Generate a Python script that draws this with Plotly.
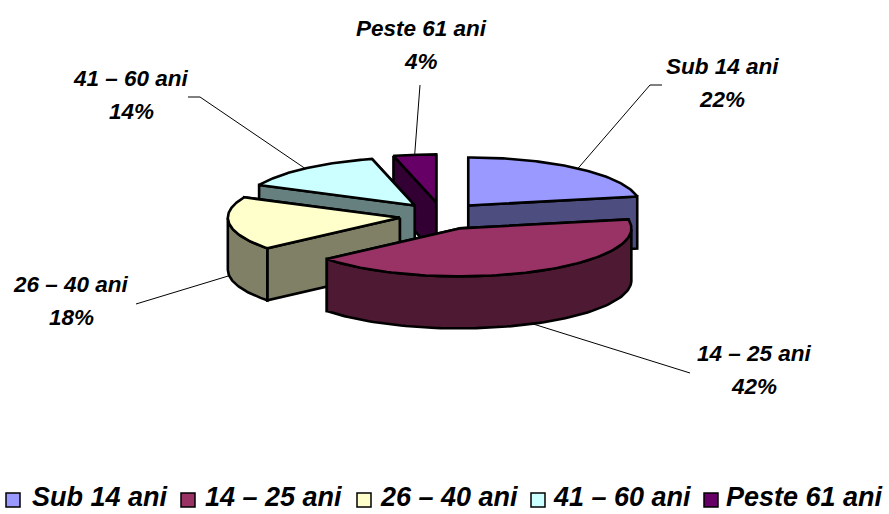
import numpy as np
import plotly.graph_objects as go

categories = ["Sub 14 ani", "14 – 25 ani", "26 – 40 ani", "41 – 60 ani", "Peste 61 ani"]
values = [22, 42, 18, 14, 4]
value_labels = ["22%", "42%", "18%", "14%", "4%"]
top_colors = ["#9999FF", "#993366", "#FFFFCC", "#CCFFFF", "#660066"]
side_colors = ["#4D4D80", "#4D1933", "#808066", "#668080", "#330033"]

# Pixel-space geometry of the tilted pie
CX, CY = 441.5, 216.0
RX, RY = 172.0, 48.0
EX, EY = 42.0, 13.7
DEPTH = 52.0
label_xy = [(722, 66), (754, 353), (71, 284), (131, 78), (421, 28)]
leader_end = [[(650, 85), (662, 85)], [(690, 373)], [(136, 304)], [(200, 97), (188, 97)], [(420, 85)]]
legend_swatch_x = [13, 188, 364, 538, 711]
legend_text_x = [30, 203, 378, 551, 724]
LEGEND_Y = 497
draw_order = [4, 0, 3, 2, 1]

fig = go.Figure()


def poly(xs, ys, fill, width=2.6):
    fig.add_trace(go.Scatter(
        x=list(xs) + [xs[0]], y=list(ys) + [ys[0]], mode="lines", fill="toself",
        fillcolor=fill, line=dict(color="black", width=width), hoverinfo="skip", showlegend=False))


total = sum(values)
edges = np.radians(np.concatenate([[0], np.cumsum(values)]) / total * 360)
rims = {}
for i in range(len(values)):
    a0, a1 = edges[i], edges[i + 1]
    mid = (a0 + a1) / 2
    ax = CX + EX * np.sin(mid)
    ay = CY - EY * np.cos(mid)
    rims[i] = (ax, ay, mid)

for i in draw_order:
    a0, a1 = edges[i], edges[i + 1]
    ax, ay, mid = rims[i]
    walls = sorted([a0, a1], key=lambda t: -np.cos(t))
    for t in walls:
        px, py = ax + RX * np.sin(t), ay - RY * np.cos(t)
        poly([ax, px, px, ax], [ay, py, py + DEPTH, ay + DEPTH], side_colors[i])
    th = np.linspace(a0, a1, 90)
    ex = ax + RX * np.sin(th)
    ey = ay - RY * np.cos(th)
    front = np.cos(th) <= 0.0
    if front.any():
        fx, fy = ex[front], ey[front]
        poly(list(fx) + list(fx[::-1]), list(fy) + list(fy[::-1] + DEPTH), side_colors[i])
    poly([ax] + list(ex), [ay] + list(ey), top_colors[i])

for i, cat in enumerate(categories):
    ax, ay, mid = rims[i]
    sx = ax + RX * np.sin(mid)
    sy = ay - RY * np.cos(mid)
    if np.cos(mid) <= 0.0:
        sy += DEPTH
    pts = [(sx, sy)] + leader_end[i]
    fig.add_trace(go.Scatter(x=[p[0] for p in pts], y=[p[1] for p in pts], mode="lines",
                             line=dict(color="black", width=1), hoverinfo="skip", showlegend=False))

annots = []
lab_font = dict(family="Liberation Sans", size=22.5, color="black", weight="bold", style="italic")
leg_font = dict(family="Liberation Sans", size=27, color="black", weight="bold", style="italic")
for i, cat in enumerate(categories):
    lx, ly = label_xy[i]
    annots.append(dict(x=lx, y=ly, text=cat, showarrow=False, font=lab_font, xanchor="center", yanchor="middle"))
    annots.append(dict(x=lx, y=ly + 33, text=value_labels[i], showarrow=False, font=lab_font, xanchor="center", yanchor="middle"))
    annots.append(dict(x=legend_text_x[i], y=LEGEND_Y, text=cat, showarrow=False, font=leg_font, xanchor="left", yanchor="middle"))

fig.add_trace(go.Scatter(x=legend_swatch_x, y=[LEGEND_Y + 3] * len(categories), mode="markers",
                         marker=dict(symbol="square", size=14, color=top_colors, line=dict(color="black", width=1.5)),
                         hoverinfo="skip", showlegend=False))

fig.update_layout(
    width=889, height=514, margin=dict(l=0, r=0, t=0, b=0), autosize=False,
    paper_bgcolor="white", plot_bgcolor="white", showlegend=False, annotations=annots,
    xaxis=dict(range=[0, 889], visible=False, fixedrange=True),
    yaxis=dict(range=[514, 0], visible=False, fixedrange=True),
)
fig.write_html("out.html", config={"displayModeBar": False},
               post_script="document.body.style.margin='0';document.body.style.overflow='hidden';")
